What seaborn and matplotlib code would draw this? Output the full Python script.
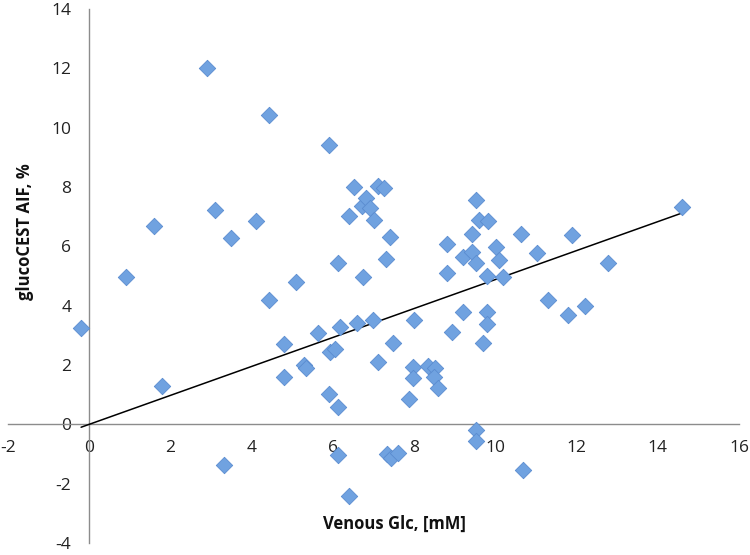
import numpy as np
import pandas as pd
import seaborn as sns
import matplotlib as mpl
import matplotlib.pyplot as plt

# venous glucose [mM] and glucoCEST AIF [%]
venous_glc = [
    -0.2, 0.9, 1.6, 1.8, 2.9, 3.1, 3.33, 3.5, 4.1, 4.43, 4.43, 4.8, 4.8,
    5.1, 5.3, 5.35, 5.64, 5.91, 5.91, 5.94, 6.06, 6.13, 6.13, 6.13, 6.18,
    6.4, 6.4, 6.53, 6.6, 6.72, 6.75, 6.82, 6.92, 6.99, 7.02, 7.1, 7.25,
    7.12, 7.32, 7.41, 7.34, 7.44, 7.61, 7.49, 7.88, 7.98, 7.98, 8.0, 8.33,
    8.52, 8.5, 8.6, 8.82, 8.82, 8.94, 9.21, 9.21, 9.43, 9.43, 9.53, 9.53,
    9.53, 9.53, 9.6, 9.7, 9.8, 9.8, 9.8, 9.83, 10.02, 10.1, 10.2, 10.62,
    10.69, 11.03, 11.3, 11.8, 11.9, 12.22, 12.78, 14.6,
]
aif = [
    3.25, 4.95, 6.7, 1.3, 12.0, 7.23, -1.37, 6.27, 6.87, 10.43, 4.2, 2.7, 1.6,
    4.8, 2.0, 1.9, 3.07, 9.4, 1.03, 2.43, 2.53, 5.43, 0.6, -1.03, 3.27,
    7.03, -2.4, 8.0, 3.43, 7.37, 4.97, 7.63, 7.3, 3.53, 6.9, 8.05, 7.97,
    2.1, 5.57, 6.3, -1.0, -1.13, -0.97, 2.73, 0.87, 1.93, 1.57, 3.53, 1.97,
    1.9, 1.6, 1.23, 6.07, 5.1, 3.1, 5.63, 3.77, 6.43, 5.8, 7.57, 5.43,
    -0.2, -0.57, 6.9, 2.73, 5.0, 3.77, 3.37, 6.87, 5.97, 5.53, 4.95, 6.4,
    -1.53, 5.77, 4.2, 3.67, 6.37, 4.0, 5.43, 7.33,
]
trend_slope = 0.488  # linear trendline through the origin

x_ticks = list(range(-2, 17, 2))
y_ticks = list(range(-4, 15, 2))

df = pd.DataFrame({"glc": venous_glc, "aif": aif})

sns.set_style("white")
plt.rcParams["font.family"] = ["Open Sans", "DejaVu Sans"]
plt.rcParams["axes.unicode_minus"] = False

fig = plt.figure(figsize=(7.5, 5.55), dpi=100)
ax = fig.add_axes([8 / 750, 1 - 543 / 555, 731 / 750, 534 / 555])

# trendline over the data range
xl = np.array([min(venous_glc), max(venous_glc)])
ax.plot(xl, trend_slope * xl, color="black", lw=1.1, zorder=3)

sns.scatterplot(
    data=df, x="glc", y="aif", ax=ax, marker="D", s=70,
    color="#70a2e0", edgecolor="#5a8cd0", linewidth=0.6, zorder=4,
)

ax.set_xlim(-2, 16)
ax.set_ylim(-4, 14)
ax.set_xticks(x_ticks)
ax.set_yticks(y_ticks)
ax.set_xlabel("")
ax.set_ylabel("")

# axes cross at the origin, Excel style
for side in ["top", "right"]:
    ax.spines[side].set_visible(False)
ax.spines["left"].set_position(("data", 0))
ax.spines["bottom"].set_position(("data", 0))
for side in ["left", "bottom"]:
    ax.spines[side].set_color("#8c8c8c")
    ax.spines[side].set_linewidth(1.0)
ax.tick_params(axis="both", direction="out", length=5, width=1.0,
               color="#8c8c8c", labelsize=12.5, labelcolor="#222222")
ax.tick_params(axis="x", pad=6)
ax.tick_params(axis="y", pad=8)

fig.text(394 / 750, 1 - 524 / 555, "Venous Glc, [mM]", ha="center", va="center",
         fontsize=12, fontweight="bold", color="#111111")
fig.text(25 / 750, 1 - 232 / 555, "glucoCEST AIF, %", ha="center", va="center",
         rotation=90, fontsize=12, fontweight="bold", color="#111111")

fig.savefig("out.png", dpi=100)
